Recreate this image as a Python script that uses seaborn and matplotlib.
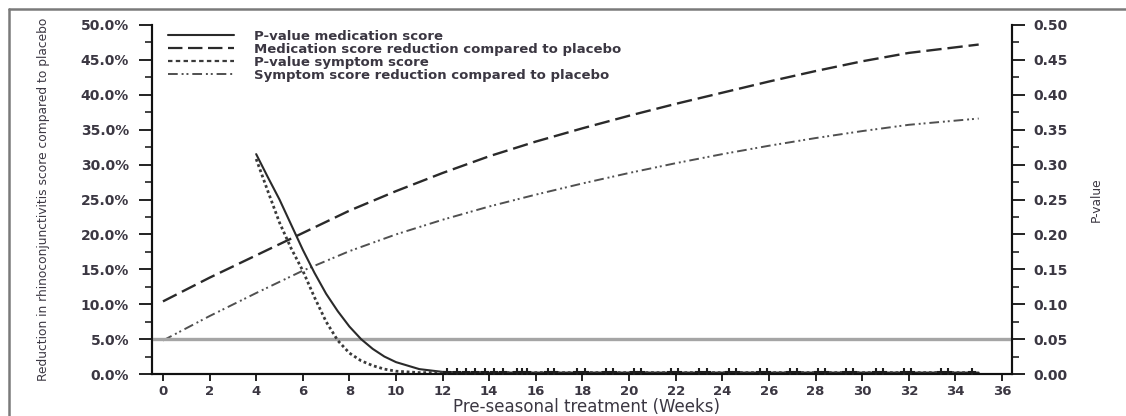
import matplotlib
matplotlib.use("Agg")
import matplotlib.pyplot as plt
import seaborn as sns
import pandas as pd
from matplotlib.lines import Line2D

# ---- data -------------------------------------------------------------
weeks_reduction = [0, 2, 4, 6, 8, 10, 12, 14, 16, 18, 20, 22, 24, 26, 28, 30, 32, 35]
medication_reduction = [10.4, 13.8, 17.0, 20.2, 23.4, 26.2, 28.8, 31.2, 33.3, 35.2,
                        37.0, 38.7, 40.3, 41.9, 43.4, 44.8, 46.0, 47.2]
symptom_reduction = [4.8, 8.3, 11.6, 14.8, 17.6, 20.0, 22.1, 24.0, 25.7, 27.3,
                     28.8, 30.2, 31.5, 32.7, 33.8, 34.8, 35.7, 36.6]

weeks_pvalue = [4, 4.5, 5, 5.5, 6, 6.5, 7, 7.5, 8, 8.5, 9, 9.5, 10, 11, 12, 13, 14, 35]
pvalue_medication = [0.315, 0.282, 0.250, 0.214, 0.178, 0.145, 0.115, 0.090, 0.068,
                     0.050, 0.036, 0.025, 0.017, 0.007, 0.003, 0.002, 0.002, 0.002]
pvalue_symptom = [0.308, 0.262, 0.217, 0.180, 0.148, 0.110, 0.075, 0.048, 0.030,
                  0.019, 0.012, 0.007, 0.004, 0.002, 0.002, 0.002, 0.002, 0.002]

# weeks carrying a plotted symbol on the p-value curves
marker_weeks = [12.2, 12.6, 13.0, 13.4, 13.8, 14.2, 14.6, 15.2, 15.4, 15.6, 16.5, 16.8,
                17.75, 18.1, 19.0, 19.3, 20.2, 20.5, 21.8, 22.1, 23.0, 23.35, 24.3, 24.6,
                25.6, 25.9, 26.9, 27.2, 28.1, 28.4, 29.3, 29.6, 30.6, 30.9, 31.8, 32.1,
                33.4, 33.7, 34.7]
marker_pvalue = [0.003] * len(marker_weeks)

significance_level = 0.05

left_ticks = [0, 5, 10, 15, 20, 25, 30, 35, 40, 45, 50]
left_labels = [f"{v:.1f}%" for v in left_ticks]
right_ticks = [0.0, 0.05, 0.10, 0.15, 0.20, 0.25, 0.30, 0.35, 0.40, 0.45, 0.50]
right_labels = [f"{v:.2f}" for v in right_ticks]
x_ticks = list(range(0, 37, 2))

legend_labels = ["P-value medication score",
                 "Medication score reduction compared to placebo",
                 "P-value symptom score",
                 "Symptom score reduction compared to placebo"]

# ---- style ------------------------------------------------------------
sns.set_style("ticks")
plt.rcParams["font.family"] = ["DejaVu Sans"]
text_color = "#3b3742"
ink = "#111111"

W, H = 1126, 416
fig = plt.figure(figsize=(W / 100, H / 100), dpi=100)
ax = fig.add_axes([152 / W, 1 - 374 / H, (1012 - 152) / W, (374 - 25) / H])
ax2 = ax.twinx()

ls_med_red = (0, (6.5, 2.5))
ls_sym_red = (0, (5, 2, 1, 1.5, 1, 2))
ls_p_sym = (0, (1, 1))

df_red = pd.DataFrame({"week": weeks_reduction,
                       "med": medication_reduction,
                       "sym": symptom_reduction})
df_p = pd.DataFrame({"week": weeks_pvalue,
                     "pmed": pvalue_medication,
                     "psym": pvalue_symptom})

sns.lineplot(data=df_red, x="week", y="med", ax=ax, color="#2a2a2a",
             linewidth=1.7, linestyle=ls_med_red)
sns.lineplot(data=df_red, x="week", y="sym", ax=ax, color="#505050",
             linewidth=1.4, linestyle=ls_sym_red)

ax2.axhline(significance_level, color="#a5a5a5", linewidth=2.4, zorder=1)
sns.lineplot(data=df_p, x="week", y="pmed", ax=ax2, color="#2a2a2a",
             linewidth=1.5)
sns.lineplot(data=df_p, x="week", y="psym", ax=ax2, color="#3a3a3a",
             linewidth=2.0, linestyle=ls_p_sym)
sns.scatterplot(x=marker_weeks, y=marker_pvalue, ax=ax2, marker="+", s=40,
                color="#1e1e1e", linewidth=1.5, zorder=5)

# ---- axes -------------------------------------------------------------
for a in (ax, ax2):
    a.set_xlim(-0.47, 36.43)
    a.spines["top"].set_visible(False)
    for s in ("left", "right", "bottom"):
        a.spines[s].set_color(ink)
        a.spines[s].set_linewidth(1.5)

ax.set_ylim(0, 50)
ax2.set_ylim(0, 0.5)

ax.set_xticks(x_ticks)
ax.set_xticklabels([str(t) for t in x_ticks])
ax.set_yticks(left_ticks)
ax.set_yticklabels(left_labels)
ax.set_yticks([v + 2.5 for v in left_ticks[:-1]], minor=True)
ax2.set_yticks(right_ticks)
ax2.set_yticklabels(right_labels)
ax2.set_yticks([v + 0.025 for v in right_ticks[:-1]], minor=True)

tick_font = dict(labelsize=10, labelcolor=text_color, color=ink)
ax.tick_params(axis="x", direction="out", length=5, width=1.3, pad=3,
               labelsize=9.5, labelcolor=text_color, color=ink)
ax.tick_params(axis="y", which="major", direction="out", length=9.5, width=1.3,
               pad=7, **tick_font)
ax.tick_params(axis="y", which="minor", direction="out", length=5, width=1.1,
               color=ink)
ax2.tick_params(axis="y", which="major", direction="out", length=9.5, width=1.3,
                pad=6, **tick_font)
ax2.tick_params(axis="y", which="minor", direction="out", length=5, width=1.1,
                color=ink)
for lbl in ax.get_xticklabels() + ax.get_yticklabels() + ax2.get_yticklabels():
    lbl.set_fontweight("bold")

ax.set_xlabel("Pre-seasonal treatment (Weeks)", fontsize=12, color=text_color)
ax.xaxis.set_label_coords(0.505, -0.0675)
ax.set_ylabel("Reduction in rhinoconjunctivitis score compared to placebo",
              fontsize=8.8, color=text_color)
ax.yaxis.set_label_coords(-0.1186, 0.5)
ax2.set_ylabel("P-value", fontsize=8.8, color=text_color)
ax2.yaxis.set_label_coords(1.0907, 0.5)

# ---- legend -----------------------------------------------------------
handles = [
    Line2D([], [], color="#2a2a2a", linewidth=1.5),
    Line2D([], [], color="#2a2a2a", linewidth=1.6, linestyle=ls_med_red),
    Line2D([], [], color="#3a3a3a", linewidth=1.6, linestyle=(0, (2, 1.5))),
    Line2D([], [], color="#505050", linewidth=1.4, linestyle=ls_sym_red),
]
leg = ax2.legend(handles, legend_labels, loc="upper left",
                 bbox_to_anchor=(168 / W, 1 - 30 / H),
                 bbox_transform=fig.transFigure, frameon=False,
                 prop=dict(size=9.5, weight="bold"),
                 handlelength=5.0, handletextpad=1.5, labelspacing=0.0,
                 borderpad=0, borderaxespad=0)
for t in leg.get_texts():
    t.set_color(text_color)

# ---- outer frame ------------------------------------------------------
fig.add_artist(Line2D([9 / W, 1.0], [1 - 9 / H, 1 - 9 / H],
                      transform=fig.transFigure, color="#7a7a7a", linewidth=1.8))
fig.add_artist(Line2D([9 / W, 9 / W], [0.0, 1 - 9 / H],
                      transform=fig.transFigure, color="#7a7a7a", linewidth=1.8))

fig.savefig("out.png", dpi=100, facecolor="white")
